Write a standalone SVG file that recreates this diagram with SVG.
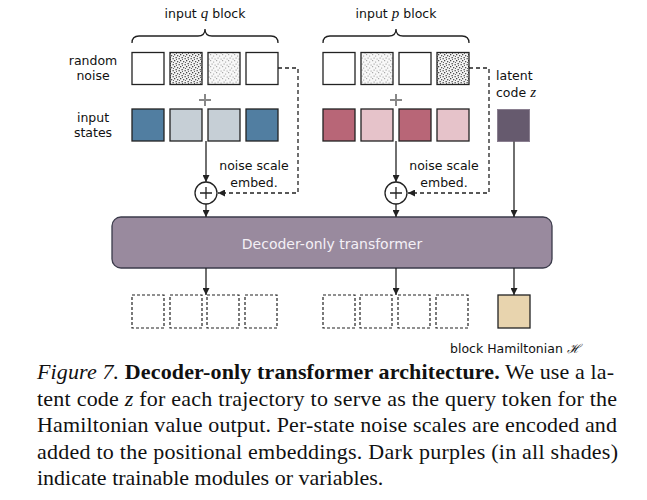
<svg xmlns="http://www.w3.org/2000/svg" width="647" height="500" viewBox="0 0 647 500">
<style>
.lbl{font-family:"DejaVu Sans",Verdana,sans-serif;font-size:12.5px;fill:#111}
.math{font-family:"Liberation Serif",serif;font-style:italic;font-size:15px}
.sq{stroke:#222;stroke-width:1.3}
.out{fill:#fff;stroke:#222;stroke-width:1.2;stroke-dasharray:3 2}
.ln{stroke:#222;stroke-width:1.3;fill:none}
.dash{stroke:#222;stroke-width:1.3;fill:none;stroke-dasharray:4 3}
.cap{font-family:"Liberation Serif","Times New Roman",serif;font-size:22px;fill:#111}
</style>
<defs>
<marker id="ah" viewBox="0 0 10 10" refX="10" refY="5" markerWidth="7" markerHeight="7" markerUnits="userSpaceOnUse" orient="auto">
<path d="M0,0 L10,5 L0,10 z" fill="#222"/>
</marker>
<pattern id="dense" width="6" height="6" patternUnits="userSpaceOnUse">
<rect width="6" height="6" fill="#f4f4f4"/>
<rect x="0" y="0" width="1.3" height="1.3" fill="#444"/>
<rect x="3" y="1" width="1.3" height="1.3" fill="#555"/>
<rect x="1.5" y="3" width="1.3" height="1.3" fill="#444"/>
<rect x="4.5" y="4" width="1.3" height="1.3" fill="#555"/>
<rect x="5" y="2" width="1" height="1" fill="#666"/>
<rect x="2" y="5" width="1" height="1" fill="#666"/>
</pattern>
<pattern id="light" width="6" height="6" patternUnits="userSpaceOnUse">
<rect width="6" height="6" fill="#f8f8f8"/>
<rect x="0" y="0" width="1.2" height="1.2" fill="#aaa"/>
<rect x="3" y="1.5" width="1.2" height="1.2" fill="#b4b4b4"/>
<rect x="1.5" y="3.5" width="1.2" height="1.2" fill="#aaa"/>
<rect x="4.5" y="4.5" width="1.2" height="1.2" fill="#b4b4b4"/>
</pattern>
</defs>
<rect width="647" height="500" fill="#fff"/>

<g id="q-block">
<path class="ln" d="M132,43 Q132,36 139,36 L198,36 Q205,36 205,29 Q205,36 212,36 L271,36 Q278,36 278,43"/>
<text class="lbl" x="205" y="18" text-anchor="middle">input <tspan class="math">q</tspan> block</text>
<rect class="sq" x="132" y="52.5" width="32" height="32" fill="#fff"/>
<rect class="sq" x="170" y="52.5" width="32" height="32" fill="url(#dense)"/>
<rect class="sq" x="208" y="52.5" width="32" height="32" fill="url(#light)"/>
<rect class="sq" x="246" y="52.5" width="32" height="32" fill="#fff"/>
<path d="M199,100 h12 M205,94 v12" stroke="#888" stroke-width="2"/>
<rect class="sq" x="132" y="109" width="32" height="32" fill="#517ea1"/>
<rect class="sq" x="170" y="109" width="32" height="32" fill="#c6cfd6"/>
<rect class="sq" x="208" y="109" width="32" height="32" fill="#c6cfd6"/>
<rect class="sq" x="246" y="109" width="32" height="32" fill="#517ea1"/>
</g>

<g id="p-block">
<path class="ln" d="M323,43 Q323,36 330,36 L389,36 Q396,36 396,29 Q396,36 403,36 L462,36 Q469,36 469,43"/>
<text class="lbl" x="396" y="18" text-anchor="middle">input <tspan class="math">p</tspan> block</text>
<rect class="sq" x="323" y="52.5" width="32" height="32" fill="#fff"/>
<rect class="sq" x="361" y="52.5" width="32" height="32" fill="url(#light)"/>
<rect class="sq" x="399" y="52.5" width="32" height="32" fill="#fff"/>
<rect class="sq" x="437" y="52.5" width="32" height="32" fill="url(#dense)"/>
<path d="M390,100 h12 M396,94 v12" stroke="#888" stroke-width="2"/>
<rect class="sq" x="323" y="109" width="32" height="32" fill="#b86677"/>
<rect class="sq" x="361" y="109" width="32" height="32" fill="#e6c3ca"/>
<rect class="sq" x="399" y="109" width="32" height="32" fill="#b86677"/>
<rect class="sq" x="437" y="109" width="32" height="32" fill="#e6c3ca"/>
</g>

<g id="row-labels">
<text class="lbl" x="93" y="65" text-anchor="middle">random</text>
<text class="lbl" x="93" y="80" text-anchor="middle">noise</text>
<text class="lbl" x="93" y="122" text-anchor="middle">input</text>
<text class="lbl" x="93" y="137" text-anchor="middle">states</text>
</g>

<g id="latent">
<text class="lbl" x="496" y="80">latent</text>
<text class="lbl" x="496" y="97">code <tspan class="math">z</tspan></text>
<rect x="497.5" y="109.5" width="32" height="32" fill="#665a6e" stroke="#8a7f90" stroke-width="1"/>
</g>

<g id="sum-q">
<circle cx="206" cy="193" r="11" fill="#fff" stroke="#222" stroke-width="1.3"/>
<path d="M200,193 h12 M206,187 v12" stroke="#222" stroke-width="1.3"/>
<text class="lbl" x="254" y="170" text-anchor="middle">noise scale</text>
<text class="lbl" x="254" y="187" text-anchor="middle">embed.</text>
</g>
<g id="sum-p">
<circle cx="396" cy="193" r="11" fill="#fff" stroke="#222" stroke-width="1.3"/>
<path d="M390,193 h12 M396,187 v12" stroke="#222" stroke-width="1.3"/>
<text class="lbl" x="444" y="170" text-anchor="middle">noise scale</text>
<text class="lbl" x="444" y="187" text-anchor="middle">embed.</text>
</g>

<g id="transformer">
<rect x="112" y="217" width="440" height="51" rx="9" fill="#998a9e" stroke="#3b3b4b" stroke-width="1.3"/>
<text x="332" y="249" text-anchor="middle" style="font-family:'DejaVu Sans',Verdana,sans-serif;font-size:14px;fill:#f4f0f6">Decoder-only transformer</text>
</g>

<g id="outputs">
<rect class="out" x="132" y="295" width="32" height="33"/>
<rect class="out" x="170" y="295" width="32" height="33"/>
<rect class="out" x="207" y="295" width="32" height="33"/>
<rect class="out" x="245" y="295" width="32" height="33"/>
<rect class="out" x="323" y="295" width="32" height="33"/>
<rect class="out" x="360" y="295" width="32" height="33"/>
<rect class="out" x="398" y="295" width="32" height="33"/>
<rect class="out" x="436" y="295" width="32" height="33"/>
</g>
<g id="hamiltonian">
<rect x="498" y="295" width="32" height="33" fill="#e8d4ae" stroke="#222" stroke-width="1.3"/>
<text class="lbl" x="450" y="353">block Hamiltonian <tspan style="font-family:'Liberation Serif',serif;font-style:italic">ℋ</tspan></text>
</g>

<g id="connectors">
<path class="dash" d="M278,68 H298 V193 H218" marker-end="url(#ah)"/>
<path class="dash" d="M469,68 H489 V193 H408" marker-end="url(#ah)"/>
<path class="ln" d="M206,141 V182" marker-end="url(#ah)"/>
<path class="ln" d="M396,141 V182" marker-end="url(#ah)"/>
<path class="ln" d="M206,204 V217" marker-end="url(#ah)"/>
<path class="ln" d="M396,204 V217" marker-end="url(#ah)"/>
<path class="ln" d="M514,141.5 V217" marker-end="url(#ah)"/>
<path class="ln" d="M206,268 V295" marker-end="url(#ah)"/>
<path class="ln" d="M396,268 V295" marker-end="url(#ah)"/>
<path class="ln" d="M514,268 V295" marker-end="url(#ah)"/>
</g>

<g id="caption">
<text class="cap" x="37" y="379" textLength="577" lengthAdjust="spacing"><tspan font-style="italic">Figure 7.</tspan> <tspan font-weight="bold">Decoder-only transformer architecture.</tspan> We use a la-</text>
<text class="cap" x="37" y="405.5" textLength="580" lengthAdjust="spacing">tent code <tspan font-style="italic">z</tspan> for each trajectory to serve as the query token for the</text>
<text class="cap" x="37" y="432" textLength="580" lengthAdjust="spacing">Hamiltonian value output. Per-state noise scales are encoded and</text>
<text class="cap" x="37" y="458.5" textLength="581" lengthAdjust="spacing">added to the positional embeddings. Dark purples (in all shades)</text>
<text class="cap" x="37" y="485">indicate trainable modules or variables.</text>
</g>
</svg>
